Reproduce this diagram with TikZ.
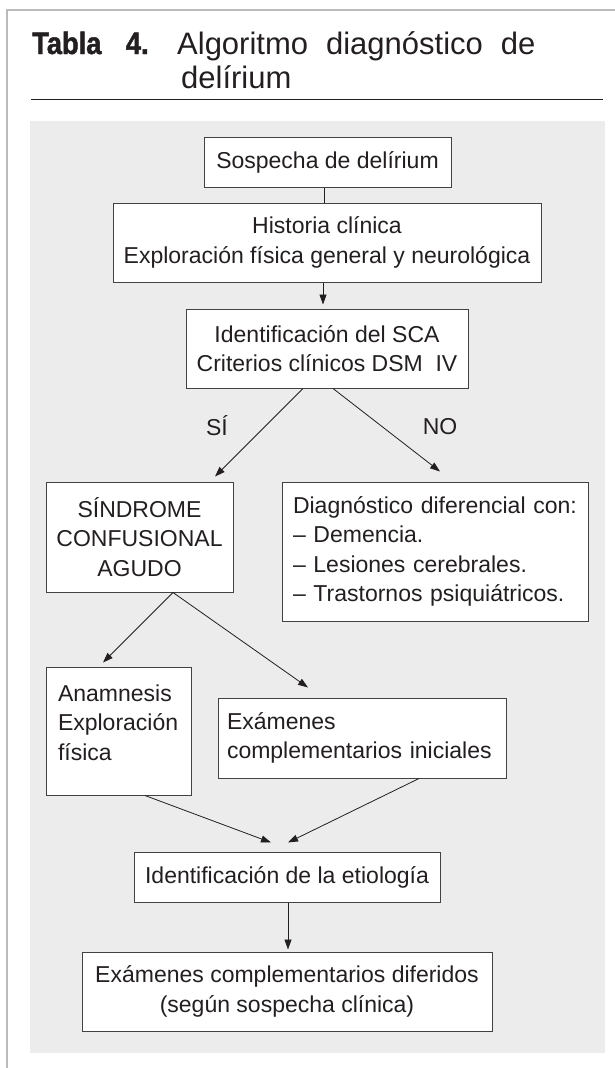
\documentclass[tikz,border=0pt]{standalone}
\usepackage{fontspec}
\setmainfont{Liberation Sans}
\newfontface\heavyfont{Liberation Sans Bold}[FakeBold=1.5, FakeStretch=0.88]
\usetikzlibrary{arrows.meta}
\definecolor{bggray}{HTML}{ECECEC}
\definecolor{framegray}{HTML}{BBBBBB}
\definecolor{ink}{HTML}{231F20}

\begin{document}
\begin{tikzpicture}[x=1pt,y=-1pt,
    box/.style={draw=ink!85, fill=white, line width=1pt, inner sep=0pt, text=ink,
      font=\fontsize{23}{29.5}\selectfont, align=center},
    lbl/.style={text=ink, font=\fontsize{23}{29.5}\selectfont, inner sep=0pt},
    ttl/.style={anchor=base west, inner sep=0pt, text=ink, font=\fontsize{31}{34}\selectfont},
    >={Triangle[length=10pt,width=7pt]}]
  \useasboundingbox (0,0) rectangle (615,1068);
  % frame, title rule and shaded panel
  \draw[framegray, line width=1.5pt] (7,1068) -- (7,10) -- (615,10);
  \draw[ink, line width=1pt] (31,99) -- (603,99);
  \fill[bggray] (30,121) rectangle (605,1053);
  \draw
    (32,54) node[ttl, font=\fontsize{31}{34}\heavyfont] (11) {Tabla\hspace*{24.5pt}4.}
    (177,54) node[ttl] (12) {Algoritmo\hspace*{18pt}diagnóstico\hspace*{18pt}de}
    (181,88) node[ttl] (13) {delírium};
  \draw
    (327.5,162) node[box, minimum width=247pt, minimum height=50pt] (0) {Sospecha de delírium}
    (327,242.5) node[box, minimum width=428pt, minimum height=79pt] (1) {Historia clínica\\Exploración física general y neurológica}
    (327,348.5) node[box, minimum width=282pt, minimum height=79pt] (2) {Identificación del SCA\\Criterios clínicos DSM\ \ IV}
    (139.5,537) node[box, minimum width=187pt, minimum height=110pt] (3) {SÍNDROME\\CONFUSIONAL\\AGUDO}
    (435,551.5) node[box, align=left, text width=284pt, inner xsep=11pt, minimum height=139pt] (4) {Diagnóstico diferencial con:\\– Demencia.\\– Lesiones cerebrales.\\– Trastornos psiquiátricos.}
    (118.5,731) node[box, inner xsep=12pt] (5) {\parbox[c][128pt][t]{121pt}{\rule{0pt}{34pt}Anamnesis\\Exploración\\física}}
    (362,738) node[box, align=left, text width=270pt, inner xsep=9pt, minimum height=80pt] (6) {Exámenes\\complementarios iniciales}
    (287,877) node[box, minimum width=306pt, minimum height=50pt] (7) {Identificación de la etiología}
    (287,991.5) node[box, minimum width=410pt, minimum height=79pt] (8) {Exámenes complementarios diferidos\\(según sospecha clínica)}
    (217,435) node[lbl, anchor=base] (9) {SÍ}
    (440,434) node[lbl, anchor=base] (10) {NO};
  \begin{scope}[ink, line width=0.8pt]
    \draw ([xshift=-3pt]0.south) to ([xshift=-2.5pt]1.north);
  \end{scope}
  \begin{scope}[->, ink, line width=0.8pt]
    \draw ([xshift=-4pt]1.south) to ([xshift=-4pt,yshift=4pt]2.north);
    \draw ([xshift=-24pt]2.south) to ([xshift=75.5pt,yshift=5pt]3.north);
    \draw ([xshift=6pt]2.south) to ([xshift=5pt,yshift=10pt]4.north);
    \draw ([xshift=33.5pt]3.south) to ([xshift=-15.5pt,yshift=4pt]5.north);
    \draw ([xshift=33.5pt]3.south) to ([xshift=-54pt,yshift=10pt]6.north);
    \draw ([xshift=26.5pt]5.south) to ([xshift=-16pt,yshift=9pt]7.north);
    \draw ([xshift=57pt]6.south) to ([xshift=1pt,yshift=9pt]7.north);
    \draw ([xshift=1pt]7.south) to ([xshift=1pt,yshift=2pt]8.north);
  \end{scope}
\end{tikzpicture}
\end{document}
